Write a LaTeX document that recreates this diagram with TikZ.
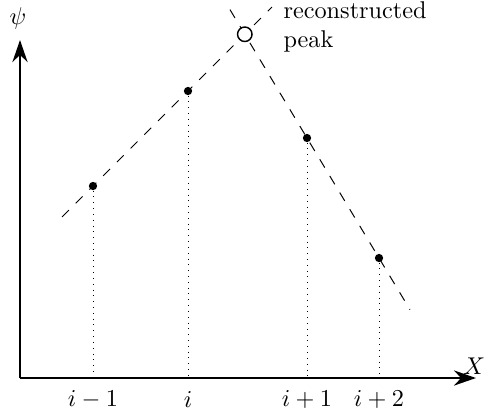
\documentclass[tikz,border=0pt]{standalone}
\usetikzlibrary{calc,arrows.meta}

\begin{document}
\begin{tikzpicture}[
  x=0.0145cm, y=-0.0145cm,
  axis/.style={-{Stealth[length=3.2mm, width=2.2mm]}, line width=0.9pt},
  dot/.style={circle, fill, inner sep=0pt, minimum size=1.2mm},
  peaknode/.style={circle, draw, semithick, inner sep=0pt, minimum size=2.1mm},
  fit line/.style={dashed, dash pattern=on 4pt off 4pt, thin},
  drop/.style={dotted, thin},
  lbl/.style={font=\normalsize}
]
  \useasboundingbox (0,0) rectangle (489,416);

  % axes
  \coordinate (o) at (20,378);
  \coordinate (ytip) at (20,40);
  \coordinate (xtip) at (476,378);
  \draw[axis] (o) -- (ytip);
  \draw[axis] (o) -- (xtip);
  \node[lbl] (ylab) at (18,18) {$\psi$};
  \node[lbl, anchor=east, inner sep=1pt] (xlab) at (488,366) {$X$};

  % samples
  \node[dot] (pa) at (93,186) {};
  \node[dot] (pb) at (188,91) {};
  \node[dot] (pc) at (307,138) {};
  \node[dot] (pd) at (379,258) {};

  % feet on the X axis
  \coordinate (fa) at (93,378);
  \coordinate (fb) at (188,378);
  \coordinate (fc) at (307,378);
  \coordinate (fd) at (379,378);
  \draw[drop] (pa) -- (fa);
  \draw[drop] (pb) -- (fb);
  \draw[drop] (pc) -- (fc);
  \draw[drop] (pd) -- (fd);

  \node[lbl] (la) at (93,399) {$i-1$};
  \node[lbl] (lb) at (188,399) {$i$};
  \node[lbl] (lc) at (307,399) {$i+1$};
  \node[lbl] (ld) at (379,399) {$i+2$};

  % extrapolated lines
  \coordinate (s1) at ($(pa)!-0.326!(pb)$);
  \coordinate (e1) at ($(pa)!1.884!(pb)$);
  \coordinate (s2) at ($(pc)!-1.07!(pd)$);
  \coordinate (e2) at ($(pc)!1.43!(pd)$);
  \draw[fit line] (s1) -- (e1);
  \draw[fit line] (s2) -- (e2);

  % reconstructed peak
  \node[peaknode, fill=white] (peak) at (intersection of pa--pb and pc--pd) {};
  \node[lbl, anchor=west, align=left] (peaktxt) at (275,27) {reconstructed\\peak};
\end{tikzpicture}
\end{document}
